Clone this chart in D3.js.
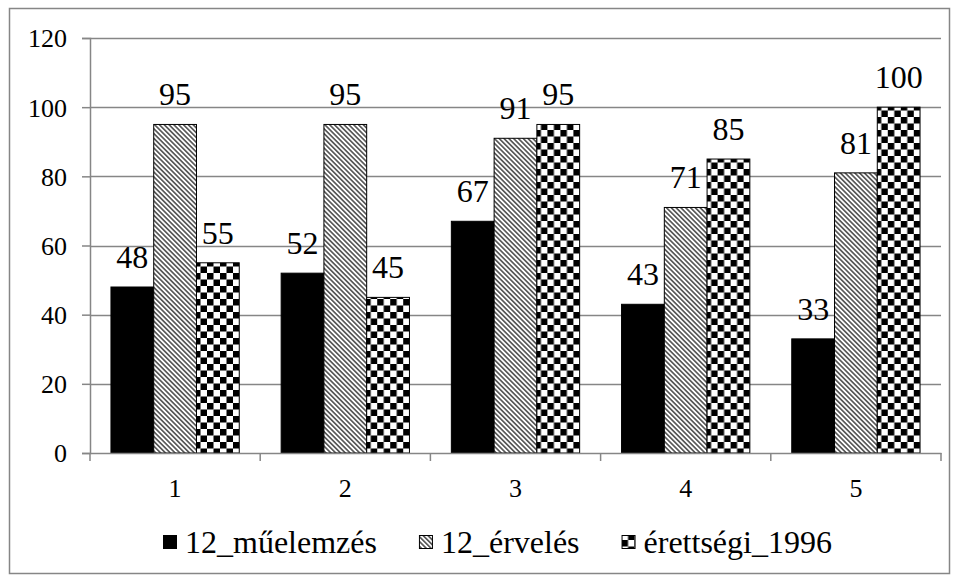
<!DOCTYPE html>
<html>
<head>
<meta charset="utf-8">
<script src="https://cdn.jsdelivr.net/npm/d3@7"></script>
</head>
<body style="margin:0">
<script>
const categories = ["1", "2", "3", "4", "5"];
const seriesNames = ["12_műelemzés", "12_érvelés", "érettségi_1996"];
const muelemzes = [48, 52, 67, 43, 33];
const erveles = [95, 95, 91, 71, 81];
const erettsegi = [55, 45, 95, 85, 100];
const yTicks = [0, 20, 40, 60, 80, 100, 120];

const seriesValues = [muelemzes, erveles, erettsegi];
const FONT = "Liberation Serif";

const W = 958, H = 581;
const svg = d3.select("body").append("svg").attr("width", W).attr("height", H)
  .attr("font-family", FONT);

const defs = svg.append("defs");
const hatch = defs.append("pattern").attr("id", "hatch")
  .attr("patternUnits", "userSpaceOnUse").attr("width", 3.4).attr("height", 10)
  .attr("patternTransform", "rotate(-45)");
hatch.append("rect").attr("width", 3.4).attr("height", 10).attr("fill", "#fff");
hatch.append("line").attr("x1", 1.7).attr("y1", 0).attr("x2", 1.7).attr("y2", 10)
  .attr("stroke", "#000").attr("stroke-width", 1.1);

const cs = 6.5;
const checker = defs.append("pattern").attr("id", "checker")
  .attr("patternUnits", "userSpaceOnUse").attr("width", cs * 2).attr("height", cs * 2);
checker.append("rect").attr("width", cs * 2).attr("height", cs * 2).attr("fill", "#fff");
checker.append("rect").attr("x", 0).attr("y", 0).attr("width", cs).attr("height", cs).attr("fill", "#000");
checker.append("rect").attr("x", cs).attr("y", cs).attr("width", cs).attr("height", cs).attr("fill", "#000");

const fills = ["#000", "url(#hatch)", "url(#checker)"];

svg.append("rect").attr("x", 9.5).attr("y", 8.5).attr("width", 940).attr("height", 565)
  .attr("fill", "none").attr("stroke", "#868686").attr("stroke-width", 1.5);

const x0 = 90, x1 = 941;
const y = d3.scaleLinear().domain([0, 120]).range([453, 38]);
const x = d3.scaleBand().domain(categories).range([x0, x1]).paddingInner(0).paddingOuter(0);
const xs = d3.scaleBand().domain(d3.range(3)).range([0, x.bandwidth()]).paddingInner(0).paddingOuter(0.49);

svg.append("g").selectAll("line").data(yTicks.filter(d => d > 0)).join("line")
  .attr("x1", x0).attr("x2", x1)
  .attr("y1", d => Math.round(y(d)) + 0.5).attr("y2", d => Math.round(y(d)) + 0.5)
  .attr("stroke", "#868686").attr("stroke-width", 1.5);

const groups = svg.append("g").selectAll("g").data(categories).join("g")
  .attr("transform", d => `translate(${x(d)},0)`);
seriesValues.forEach((vals, si) => {
  groups.append("rect")
    .attr("x", xs(si))
    .attr("y", (d, i) => y(vals[i]))
    .attr("width", xs.bandwidth())
    .attr("height", (d, i) => y(0) - y(vals[i]))
    .attr("fill", fills[si])
    .attr("stroke", "#000").attr("stroke-width", 1);
});

const yAxis = svg.append("g").attr("transform", `translate(${x0},0)`)
  .call(d3.axisLeft(y).tickValues(yTicks).tickSize(8).tickPadding(15).tickFormat(d3.format("d")));
yAxis.attr("font-family", FONT).attr("font-size", 26);
yAxis.select(".domain").attr("stroke", "#868686").attr("stroke-width", 1.5);
yAxis.selectAll(".tick line").attr("stroke", "#868686").attr("stroke-width", 1.5);
yAxis.selectAll("text").attr("dy", "0.34em");

const xAxis = svg.append("g").attr("transform", `translate(0,${y(0)})`)
  .call(d3.axisBottom(x).tickSize(0).tickPadding(0));
xAxis.attr("font-family", FONT).attr("font-size", 26);
xAxis.select(".domain").attr("stroke", "#868686").attr("stroke-width", 1.5);
xAxis.selectAll("text").attr("y", 44).attr("dy", null);
xAxis.append("g").selectAll("line").data(categories.map(c => x(c)).concat([x1])).join("line")
  .attr("x1", d => d).attr("x2", d => d).attr("y1", 0).attr("y2", 8)
  .attr("stroke", "#868686").attr("stroke-width", 1.5);

seriesValues.forEach((vals, si) => {
  groups.append("text")
    .attr("x", xs(si) + xs.bandwidth() / 2)
    .attr("y", (d, i) => y(vals[i]) - 19)
    .attr("text-anchor", "middle")
    .attr("font-size", 32)
    .text((d, i) => vals[i]);
});

const legend = svg.append("g").attr("transform", "translate(163,553)").attr("font-size", 32);
let lx = 0;
seriesNames.forEach((name, si) => {
  const g = legend.append("g").attr("transform", `translate(${lx},0)`);
  g.append("rect").attr("x", 0.5).attr("y", -17.5).attr("width", 13).attr("height", 13)
    .attr("fill", fills[si]).attr("stroke", "#000").attr("stroke-width", 1);
  const t = g.append("text").attr("x", 22).attr("y", 0).text(name);
  lx += 22 + t.node().getComputedTextLength() + 42;
});

svg.selectAll("text").style("font-family", FONT).attr("fill", "#000");
</script>
</body>
</html>
